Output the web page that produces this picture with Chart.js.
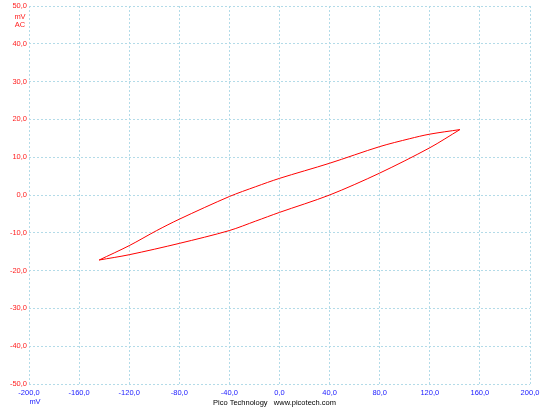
<!doctype html>
<html>

<head>
    <title>Pico</title>
    <script src="https://cdn.jsdelivr.net/npm/chart.js"></script>
</head>

<style>
    body { margin: 0; background: white; }
</style>

<body>
    <div style="width: 541px; height: 414px;">
        <canvas id="grafico"></canvas>
    </div>

    <script>
        // ramo superior (da ponta esquerda para a direita)
        var superiorX = [-144, -120, -98, -80, -40, -19, 0, 40, 80, 104, 120, 144];
        var superiorY = [-17.2, -13.4, -9.4, -6.4, -0.4, 2.2, 4.4, 8.4, 12.8, 14.9, 16.1, 17.3];
        // ramo inferior (da ponta direita para a esquerda)
        var inferiorX = [144, 120, 80, 40, 0, -19, -40, -80, -120, -144];
        var inferiorY = [17.3, 12.5, 5.8, 0, -4.6, -6.9, -9.4, -12.8, -15.8, -17.2];

        var ticksX = [-200, -160, -120, -80, -40, 0, 40, 80, 120, 160, 200];
        var ticksY = [50, 40, 30, 20, 10, 0, -10, -20, -30, -40, -50];

        var fonte = 'Liberation Sans, Arial, sans-serif';
        var corGrade = '#b3dbe8';

        function pontos(xs, ys) {
            return xs.map((x, i) => ({ x: x, y: ys[i] }));
        }

        function formatar(v) {
            return v.toFixed(1).replace('.', ',');
        }

        var textos = {
            id: 'textos',
            afterDraw(chart) {
                var ctx = chart.ctx;
                var sx = chart.scales.x;
                var sy = chart.scales.y;
                ctx.save();
                ctx.font = '7.5px ' + fonte;
                ctx.textBaseline = 'middle';
                ctx.textAlign = 'center';
                ctx.fillStyle = '#ff2020';
                var y50 = sy.getPixelForValue(50);
                ctx.fillText('mV', 20, y50 + 11);
                ctx.fillText('AC', 20, y50 + 19);
                ctx.fillStyle = '#2020ff';
                ctx.fillText('mV', sx.getPixelForValue(-200) + 6, 402);
                ctx.fillStyle = '#000000';
                ctx.textAlign = 'left';
                ctx.fillText('Pico Technology   www.picotech.com', 213, 402.5);
                ctx.restore();
            }
        };

        var grafico = new Chart(document.getElementById('grafico').getContext('2d'), {
            type: 'scatter',
            data: {
                datasets: [{
                    data: pontos(superiorX, superiorY),
                    showLine: true,
                    borderColor: '#ff0000',
                    borderWidth: 1,
                    pointRadius: 0,
                    tension: 0.3
                }, {
                    data: pontos(inferiorX, inferiorY),
                    showLine: true,
                    borderColor: '#ff0000',
                    borderWidth: 1,
                    pointRadius: 0,
                    tension: 0.3
                }]
            },
            options: {
                responsive: true,
                maintainAspectRatio: false,
                animation: false,
                layout: {
                    padding: { top: 6, right: 11, left: 0, bottom: 0 }
                },
                plugins: {
                    legend: { display: false },
                    tooltip: { enabled: false }
                },
                scales: {
                    x: {
                        min: -200,
                        max: 200,
                        afterBuildTicks: (s) => { s.ticks = ticksX.map(v => ({ value: v })); },
                        afterFit: (s) => { s.height = 30; s.paddingLeft = 0; s.paddingRight = 0; },
                        border: { display: false, dash: [2, 2] },
                        grid: { color: corGrade, drawTicks: false },
                        ticks: {
                            color: '#2020ff',
                            font: { size: 7.5, family: fonte },
                            padding: 4,
                            maxRotation: 0,
                            autoSkip: false,
                            callback: (v) => formatar(v)
                        }
                    },
                    y: {
                        min: -50,
                        max: 50,
                        afterBuildTicks: (s) => { s.ticks = ticksY.map(v => ({ value: v })); },
                        afterFit: (s) => { s.width = 29; s.paddingTop = 0; s.paddingBottom = 0; },
                        border: { display: false, dash: [2, 2] },
                        grid: { color: corGrade, drawTicks: false },
                        ticks: {
                            color: '#ff2020',
                            font: { size: 7.5, family: fonte },
                            padding: 2,
                            autoSkip: false,
                            callback: (v) => formatar(v)
                        }
                    }
                }
            },
            plugins: [textos]
        });
    </script>
</body>

</html>
